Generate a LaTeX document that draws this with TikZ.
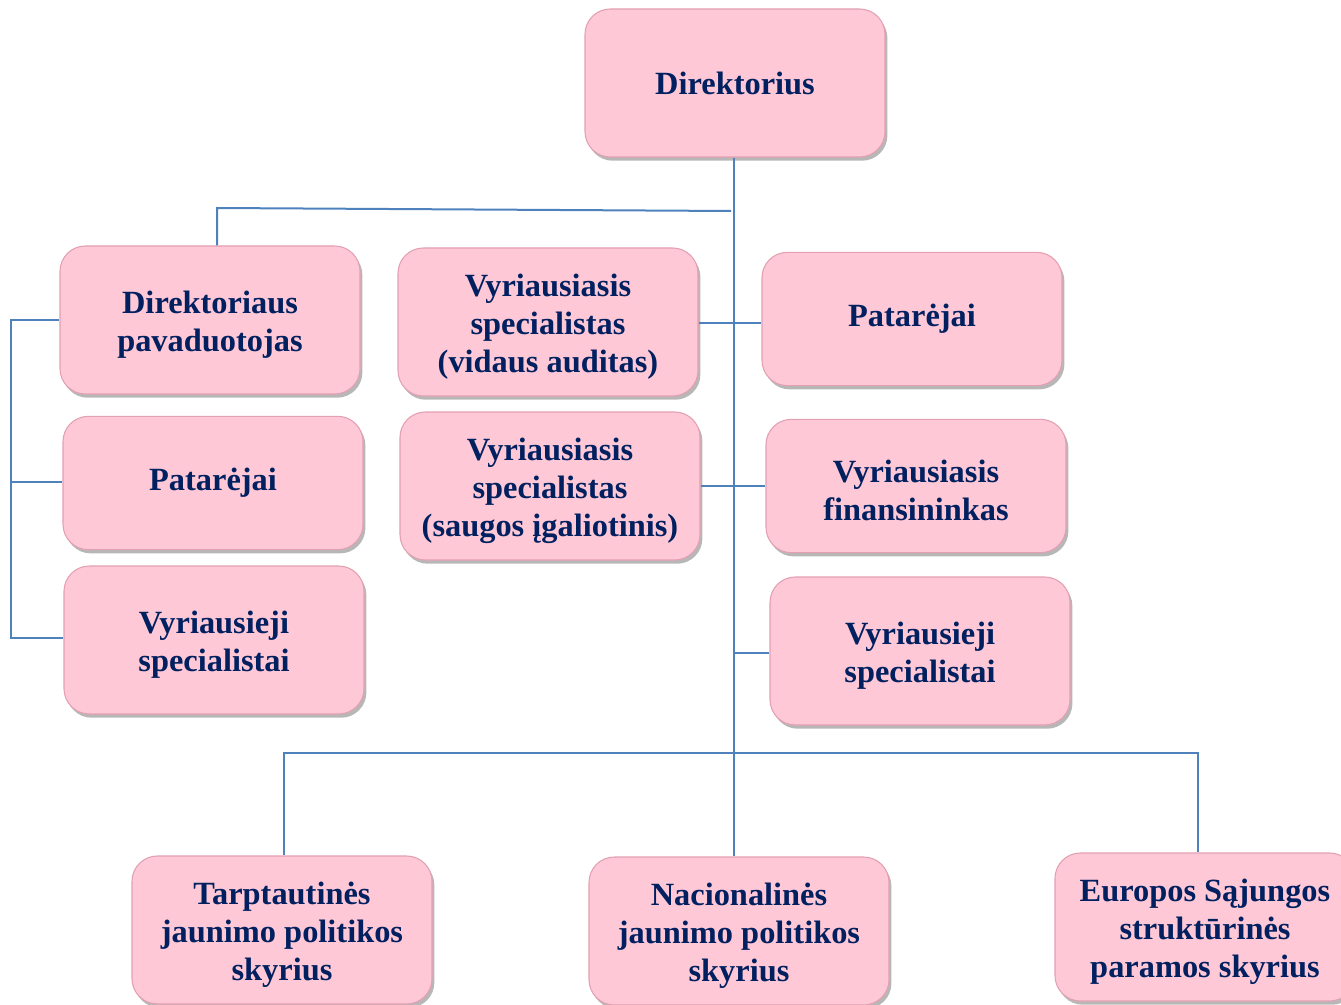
\documentclass[tikz,border=0pt]{standalone}
\usepackage{fontspec}
\setmainfont{Liberation Serif}
\usetikzlibrary{shadows}
\definecolor{boxpink}{RGB}{255,200,214}
\definecolor{boxedge}{RGB}{226,160,178}
\definecolor{navy}{RGB}{0,32,96}
\definecolor{linkblue}{RGB}{79,129,189}
\newcommand\topstrut{\rule{0pt}{24pt}}
\begin{document}
\begin{tikzpicture}[x=0.75pt,y=-0.75pt,
  orgbox/.style={rectangle, rounded corners=19pt, fill=boxpink, draw=boxedge, line width=0.8pt,
    minimum width=225pt, minimum height=111pt, align=center, text=navy,
    font=\fontsize{24.3}{28.3}\selectfont\bfseries,
    drop shadow={shadow xshift=1.8pt, shadow yshift=-2.8pt, opacity=0.4, fill=black!70}},
  lowbox/.style={orgbox, minimum height=100pt},
  link/.style={draw=linkblue, line width=1.5pt}]
\useasboundingbox (0,0) rectangle (1341,1005);

\coordinate (hA) at (731,211);
\coordinate (hL) at (217,208);
\coordinate (bl) at (284,753);
\coordinate (br) at (1198,753);
\coordinate (lv1) at (11,320);
\coordinate (lv2) at (11,482);
\coordinate (lv3) at (11,638);
\coordinate (c1) at (734,323);
\coordinate (c2) at (734,486);
\coordinate (c3) at (734,653);

\node[orgbox] (dir) at (735,83) {Direktorius};
\node[orgbox] (pav) at (210,320) {\topstrut Direktoriaus\\pavaduotojas};
\node[orgbox] (vsa) at (548,322) {\topstrut Vyriausiasis\\specialistas\\(vidaus auditas)};
\node[lowbox] (patR) at (912,319) {Patarėjai};
\node[lowbox] (patL) at (213,483) {Patarėjai};
\node[orgbox] (vss) at (550,486) {\topstrut Vyriausiasis\\specialistas\\(saugos įgaliotinis)};
\node[lowbox] (fin) at (916,486) {\topstrut Vyriausiasis\\finansininkas};
\node[orgbox] (vspL) at (214,640) {\topstrut Vyriausieji\\specialistai};
\node[orgbox] (vspR) at (920,651) {\topstrut Vyriausieji\\specialistai};
\node[orgbox] (tarp) at (282,930) {\topstrut Tarptautinės\\jaunimo politikos\\skyrius};
\node[orgbox] (nac) at (739,931) {\topstrut Nacionalinės\\jaunimo politikos\\skyrius};
\node[orgbox] (eur) at (1205,927) {\topstrut Europos Sąjungos\\struktūrinės\\paramos skyrius};

\path[link] (dir.south -| c1) -- (c1 |- nac.north);
\path[link] (hA) -- (hL) -- (hL |- pav.north);
\path[link] (vsa.east |- c1) -- (patR.west |- c1);
\path[link] (vss.east |- c2) -- (fin.west |- c2);
\path[link] (c3) -- (vspR.west |- c3);
\path[link] (bl |- tarp.north) -- (bl) -- (br) -- (br |- eur.north);
\path[link] (pav.west |- lv1) -- (lv1) -- (lv3) -- (vspL.west |- lv3);
\path[link] (lv2) -- (patL.west |- lv2);
\end{tikzpicture}
\end{document}
